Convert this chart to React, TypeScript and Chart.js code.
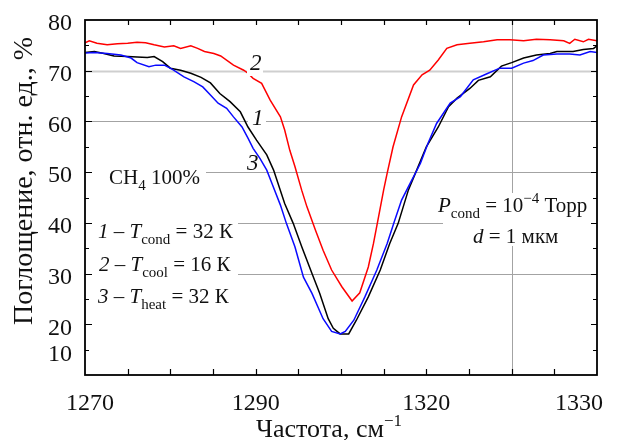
import React, { useEffect, useRef } from 'react';
import { Chart, registerables } from 'chart.js';

Chart.register(...registerables);

// ---- data ----
const blackX = [1270.0,1271.1,1272.2,1273.4,1275.0,1276.1,1277.3,1278.1,1279.1,1280.0,1281.2,1282.4,1283.6,1284.7,1285.8,1287.0,1288.2,1289.1,1290.1,1291.3,1292.1,1293.4,1294.4,1295.4,1296.6,1297.5,1298.5,1299.1,1299.9,1300.9,1301.8,1303.2,1304.6,1305.7,1306.7,1307.9,1308.7,1310.0,1311.4,1312.6,1313.6,1315.1,1316.1,1317.5,1318.8,1320.0,1321.4,1322.9,1324.5,1325.3,1327.2,1328.4,1329.6,1330.0];
const blackY = [73.6,73.8,73.4,72.9,72.8,72.7,72.6,72.8,71.8,70.5,70.1,69.5,68.7,67.6,65.5,63.9,61.9,58.9,56.3,53.4,50.4,43.8,39.9,35.3,30.0,26.1,21.1,19.2,18.1,18.1,20.8,25.4,30.7,35.9,39.9,46.5,49.7,55.0,58.9,62.9,64.6,66.5,68.1,68.8,70.9,71.6,72.5,73.1,73.4,73.8,73.8,74.2,74.4,74.9];

const redX = [1270.0,1270.5,1271.4,1272.6,1273.8,1275.0,1276.1,1277.1,1278.1,1279.3,1280.4,1281.2,1282.4,1283.2,1284.0,1285.1,1285.9,1287.4,1288.6,1289.1,1289.7,1290.7,1291.7,1292.9,1293.4,1294.0,1294.6,1295.4,1296.0,1297.0,1297.9,1298.9,1300.1,1301.3,1302.2,1303.2,1303.8,1304.4,1305.0,1305.4,1306.1,1307.1,1308.5,1309.5,1310.4,1311.4,1312.4,1313.6,1315.1,1316.7,1318.3,1319.8,1321.4,1322.9,1324.5,1326.1,1326.8,1327.4,1328.4,1329.0,1330.0];
const redY = [75.5,75.9,75.4,75.1,75.3,75.4,75.6,75.5,75.1,74.7,74.9,74.4,74.9,74.4,73.8,73.4,72.9,71.1,70.1,69.5,68.5,67.5,64.2,60.9,58.3,54.3,51.1,46.4,43.2,38.6,34.6,30.7,27.4,24.6,26.2,31.3,35.9,41.2,46.5,49.7,55.0,60.9,67.2,69.2,70.1,72.1,74.4,75.1,75.4,75.7,76.1,76.1,75.9,76.2,76.1,75.9,75.4,76.2,75.7,76.2,75.9];

const blueX = [1270.0,1271.1,1272.6,1274.2,1275.4,1276.1,1277.5,1278.3,1279.3,1280.2,1281.6,1282.8,1283.8,1284.7,1285.6,1286.6,1287.4,1288.4,1289.1,1289.7,1290.5,1291.3,1291.9,1292.9,1293.6,1294.6,1295.6,1296.6,1297.9,1298.9,1299.9,1300.5,1301.5,1302.8,1304.2,1305.4,1306.3,1307.1,1308.1,1309.3,1310.2,1311.2,1312.8,1314.0,1315.5,1317.1,1318.6,1320.0,1321.4,1322.5,1323.7,1325.3,1326.8,1328.0,1329.2,1330.0];
const blueY = [73.5,73.6,73.4,73.1,72.5,71.6,70.8,71.1,71.1,70.3,68.8,67.8,66.8,65.2,63.6,62.6,60.9,58.9,56.7,54.7,52.7,50.4,47.8,43.5,39.9,35.3,29.3,26.1,21.1,18.6,18.1,18.6,20.8,25.4,30.7,35.9,40.5,44.5,47.8,51.7,55.7,59.6,63.6,64.9,68.2,69.4,70.5,70.5,71.5,72.0,73.1,73.3,73.3,73.1,73.8,73.6];

const xMin = 1270;
const xMax = 1330;
const yMin = 10;
const yMax = 80;
const xTickValues = [1270, 1290, 1310, 1330];
const xTickLabels = ['1270', '1290', '1320', '1330'];
const yTickValues = [10, 20, 30, 40, 50, 60, 70, 80];
const yTickLabels = ['10', '20', '30', '40', '50', '60', '70', '80'];
const yGridValues = [30, 40, 50, 60, 70];
const xGridValues = [1320];

const xTitle = 'Частота, см';
const xTitleSup = '−1';
const yTitle = 'Поглощение, отн. ед., %';

const SERIF = '"Liberation Serif", "Times New Roman", Times, serif';

type Part = { t: string; f: string; dy?: number };

function drawRich(ctx: CanvasRenderingContext2D, x: number, y: number, parts: Part[]) {
  let cx = x;
  ctx.textAlign = 'left';
  ctx.textBaseline = 'alphabetic';
  for (const p of parts) {
    ctx.font = p.f;
    ctx.fillText(p.t, cx, y + (p.dy || 0));
    cx += ctx.measureText(p.t).width;
  }
}

const frPlugin = {
  id: 'frPlugin',
  beforeDatasetsDraw(chart: any) {
    const { ctx, chartArea: a, scales } = chart;
    const xs = scales.x;
    const ys = scales.y;
    ctx.save();
    // grid
    for (const v of yGridValues) {
      const py = Math.round(ys.getPixelForValue(v)) + 0.5;
      ctx.beginPath();
      if (v === 70) {
        ctx.strokeStyle = '#cfcfcf';
        ctx.lineWidth = 2;
      } else {
        ctx.strokeStyle = '#a3a3a3';
        ctx.lineWidth = 1;
      }
      ctx.moveTo(a.left, py);
      ctx.lineTo(a.right, py);
      ctx.stroke();
    }
    for (const v of xGridValues) {
      const px = Math.round(xs.getPixelForValue(v)) + 0.5;
      ctx.beginPath();
      ctx.strokeStyle = '#a3a3a3';
      ctx.lineWidth = 1;
      ctx.moveTo(px, a.top);
      ctx.lineTo(px, a.bottom);
      ctx.stroke();
    }
    // white boxes behind the text annotations
    ctx.fillStyle = '#ffffff';
    ctx.fillRect(a.left + 1, 160, 120, 30); // CH4 100%
    ctx.fillRect(a.left + 1, 205, 152, 105); // legend block
    ctx.fillRect(443, 193, a.right - 444, 53); // P_cond block
    ctx.fillRect(248, 104, 18, 24); // label 1
    ctx.fillRect(246, 150, 16, 22); // label 3
    ctx.restore();
  },
  afterDatasetsDraw(chart: any) {
    const { ctx, chartArea: a, scales } = chart;
    const xs = scales.x;
    const ys = scales.y;
    ctx.save();
    // label 2 box (interrupts red curve)
    ctx.fillStyle = '#ffffff';
    ctx.fillRect(247, 52, 16, 24);

    ctx.fillStyle = '#111';
    const italic = `italic 23px ${SERIF}`;
    ctx.font = italic;
    ctx.textAlign = 'left';
    ctx.textBaseline = 'alphabetic';
    ctx.fillText('2', 250, 70);
    ctx.fillText('1', 252, 125);
    ctx.fillText('3', 247, 170);

    // frame
    ctx.strokeStyle = '#000';
    ctx.lineWidth = 1.8;
    ctx.strokeRect(a.left, a.top, a.right - a.left, a.bottom - a.top);

    // ticks
    ctx.lineWidth = 1.2;
    ctx.beginPath();
    for (let v = xMin + 5; v < xMax; v += 5) {
      const px = Math.round(xs.getPixelForValue(v)) + 0.5;
      ctx.moveTo(px, a.bottom);
      ctx.lineTo(px, a.bottom - 6);
      ctx.moveTo(px, a.top);
      ctx.lineTo(px, a.top + 5);
    }
    for (let v = yMin + 5; v < yMax; v += 5) {
      const py = Math.round(ys.getPixelForValue(v)) + 0.5;
      const major = v % 10 === 0;
      ctx.moveTo(a.left, py);
      ctx.lineTo(a.left + (major ? 7 : 4), py);
      ctx.moveTo(a.right, py);
      ctx.lineTo(a.right - (major ? 6 : 4), py);
    }
    ctx.stroke();

    // tick labels
    ctx.fillStyle = '#111';
    ctx.font = `24px ${SERIF}`;
    ctx.textBaseline = 'alphabetic';
    ctx.textAlign = 'center';
    const xOffsets = [5, 0, 0, -18];
    xTickValues.forEach((v, i) => {
      ctx.fillText(xTickLabels[i], xs.getPixelForValue(v) + xOffsets[i], 410);
    });
    ctx.textAlign = 'right';
    ctx.textBaseline = 'middle';
    yTickValues.forEach((v, i) => {
      const py = ys.getPixelForValue(v);
      ctx.fillText(yTickLabels[i], 72, v === yMin ? py - 20 : py + 4);
    });

    // axis titles
    ctx.textBaseline = 'alphabetic';
    ctx.font = `26px ${SERIF}`;
    const wMain = ctx.measureText(xTitle).width;
    ctx.font = `17px ${SERIF}`;
    const wSup = ctx.measureText(xTitleSup).width;
    const xStart = 329 - (wMain + wSup) / 2;
    drawRich(ctx, xStart, 437, [
      { t: xTitle, f: `26px ${SERIF}` },
      { t: xTitleSup, f: `17px ${SERIF}`, dy: -11 },
    ]);

    ctx.save();
    ctx.translate(32, 181);
    ctx.rotate(-Math.PI / 2);
    ctx.font = `28px ${SERIF}`;
    ctx.textAlign = 'center';
    ctx.fillText(yTitle, 0, 0);
    ctx.restore();

    // annotations
    const main = `21px ${SERIF}`;
    const ital = `italic 21px ${SERIF}`;
    const sub = `15px ${SERIF}`;
    drawRich(ctx, 109, 184, [
      { t: 'CH', f: main },
      { t: '4', f: sub, dy: 6 },
      { t: ' 100%', f: main },
    ]);
    drawRich(ctx, 98, 238, [
      { t: '1', f: ital },
      { t: ' – ', f: main },
      { t: 'T', f: ital },
      { t: 'cond', f: sub, dy: 6 },
      { t: ' = 32 К', f: main },
    ]);
    drawRich(ctx, 99, 271, [
      { t: '2', f: ital },
      { t: ' – ', f: main },
      { t: 'T', f: ital },
      { t: 'cool', f: sub, dy: 6 },
      { t: ' = 16 К', f: main },
    ]);
    drawRich(ctx, 98, 303, [
      { t: '3', f: ital },
      { t: ' – ', f: main },
      { t: 'T', f: ital },
      { t: 'heat', f: sub, dy: 6 },
      { t: ' = 32 К', f: main },
    ]);
    drawRich(ctx, 438, 212, [
      { t: 'P', f: ital },
      { t: 'cond', f: sub, dy: 6 },
      { t: ' = 10', f: main },
      { t: '−4', f: sub, dy: -9 },
      { t: ' Торр', f: main },
    ]);
    drawRich(ctx, 473, 243, [
      { t: 'd', f: ital },
      { t: ' = 1 мкм', f: main },
    ]);
    ctx.restore();
  },
};

function toPoints(xs: number[], ys: number[]) {
  return xs.map((x, i) => ({ x, y: ys[i] }));
}

export default function App() {
  const ref = useRef<HTMLCanvasElement | null>(null);
  useEffect(() => {
    if (!ref.current) return;
    const chart = new Chart(ref.current, {
      type: 'line',
      data: {
        datasets: [
          {
            label: '3',
            data: toPoints(blueX, blueY),
            borderColor: 'rgb(10,10,255)',
            borderWidth: 1.5,
            pointRadius: 0,
            tension: 0,
            fill: false,
          },
          {
            label: '1',
            data: toPoints(blackX, blackY),
            borderColor: '#000000',
            borderWidth: 1.5,
            pointRadius: 0,
            tension: 0,
            fill: false,
          },
          {
            label: '2',
            data: toPoints(redX, redY),
            borderColor: 'rgb(255,0,0)',
            borderWidth: 1.5,
            pointRadius: 0,
            tension: 0,
            fill: false,
          },
        ],
      },
      options: {
        responsive: false,
        devicePixelRatio: 1,
        animation: false,
        parsing: false as any,
        layout: { padding: { left: 85, right: 20, top: 20, bottom: 65 } },
        plugins: { legend: { display: false }, tooltip: { enabled: false } },
        scales: {
          x: { type: 'linear', min: xMin, max: xMax, display: false },
          y: { type: 'linear', min: yMin, max: yMax, display: false },
        },
      },
      plugins: [frPlugin],
    });
    return () => chart.destroy();
  }, []);
  return (
    <div style={{ position: 'fixed', left: 0, top: 0, width: 617, height: 440, background: '#fff' }}>
      <canvas ref={ref} width={617} height={440} style={{ width: 617, height: 440 }} />
    </div>
  );
}
